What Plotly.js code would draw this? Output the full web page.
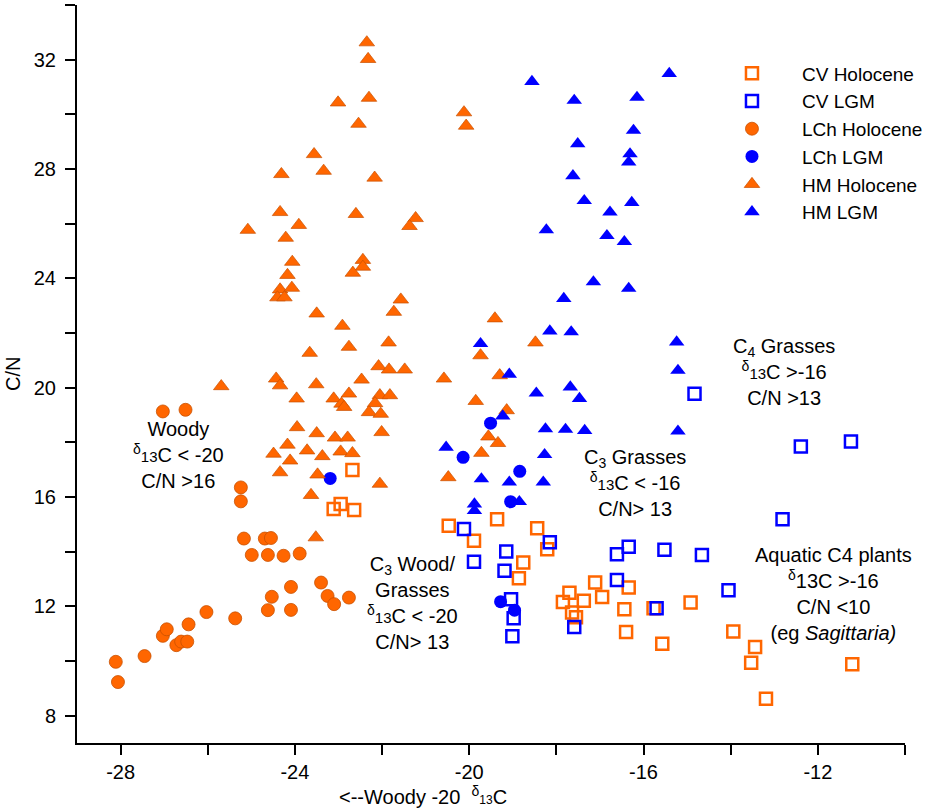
<!DOCTYPE html>
<html>
<head>
<meta charset="utf-8">
<script src="https://cdn.plot.ly/plotly-3.0.1.min.js"></script>
<style>html,body{margin:0;padding:0;background:#fff;}#chart{width:935px;height:810px;}</style>
</head>
<body>
<div id="chart"></div>
<script>
// ---- data (delta13C, C/N) ----
const cvHoloX = [-22.68,-23.11,-22.95,-22.64,-20.47,-19.89,-19.36,-18.44,-18.21,-18.76,-18.86,-16.34,-17.11,-16.95,-17.70,-17.37,-17.85,-17.64,-17.55,-16.44,-16.40,-15.77,-15.57,-14.92,-13.94,-13.44,-13.53,-13.19,-11.21];
const cvHoloY = [16.99,15.56,15.74,15.52,14.95,14.40,15.19,14.86,14.09,13.60,13.03,12.69,12.87,12.34,12.50,12.20,12.16,11.77,11.60,11.89,11.06,11.93,10.63,12.14,11.08,10.51,9.94,8.62,9.88];

const cvLgmX = [-20.12,-19.89,-19.15,-19.19,-19.04,-18.98,-19.01,-18.15,-17.59,-16.61,-16.34,-16.61,-15.52,-14.66,-15.70,-14.05,-12.81,-14.83,-12.39,-11.24];
const cvLgmY = [14.83,13.63,14.01,13.30,12.26,11.56,10.91,14.34,11.24,13.91,14.18,12.96,14.07,13.88,11.93,12.59,15.19,19.78,17.85,18.03];

const lchHoloX = [-28.11,-28.06,-27.45,-27.03,-26.94,-26.72,-26.61,-26.47,-26.44,-26.03,-25.37,-24.62,-24.53,-24.09,-24.09,-23.40,-23.25,-23.10,-22.76,-25.24,-25.24,-25.17,-24.69,-24.55,-24.99,-24.62,-24.26,-23.89,-27.03,-26.51];
const lchHoloY = [9.97,9.23,10.18,10.92,11.16,10.58,10.71,10.71,11.34,11.79,11.56,11.86,12.35,11.87,12.71,12.87,12.38,12.08,12.32,16.35,15.84,14.48,14.48,14.50,13.88,13.88,13.85,13.93,19.13,19.19];

const lchLgmX = [-23.19,-19.51,-20.14,-18.84,-19.05,-19.28,-18.96];
const lchLgmY = [16.68,18.70,17.45,16.94,15.83,12.17,11.86];

const hmHoloX = [-22.35,-22.32,-23.01,-22.30,-22.54,-23.56,-23.34,-22.17,-24.31,-24.34,-22.60,-21.23,-21.37,-25.08,-23.91,-24.21,-24.06,-24.17,-22.44,-22.44,-22.67,-20.12,-20.07,
  -24.34,-24.07,-24.40,-24.24,-23.50,-22.91,-21.57,-21.73,-22.76,-21.85,-23.66,-22.08,-21.84,-21.48,-22.47,-24.43,-24.34,-23.51,-25.69,-22.76,-23.11,-22.93,-22.87,-22.05,-21.82,-22.16,-22.30,-22.03,
  -23.96,-23.95,-23.50,-23.08,-22.79,-22.01,-24.17,-24.49,-23.72,-23.37,-22.95,-22.68,-24.11,-24.34,-23.48,-23.63,-22.05,-20.58,-20.48,-23.52,
  -19.41,-18.48,-19.74,-19.30,-19.85,-19.14,-19.56,-19.34,-19.72];
const hmHoloY = [32.63,32.02,30.43,30.60,29.65,28.54,27.93,27.68,27.81,26.42,26.35,26.20,25.91,25.77,25.95,25.48,24.60,24.12,24.67,24.42,24.20,30.07,29.58,
  23.59,23.65,23.30,23.30,22.71,22.26,23.22,22.77,21.49,21.65,21.27,20.78,20.66,20.66,20.29,20.33,20.08,20.12,20.05,19.78,19.60,19.41,19.29,19.72,19.72,19.43,19.10,19.04,
  19.60,18.55,18.33,18.17,18.17,18.37,17.91,17.58,17.70,17.49,17.66,17.60,17.33,16.90,16.82,16.07,16.48,20.33,16.72,14.52,
  22.53,21.65,21.18,20.45,19.51,19.17,18.21,17.97,17.61];

const hmLgmX = [-18.56,-17.59,-16.15,-15.41,-16.23,-17.51,-16.31,-16.34,-17.62,-17.36,-16.27,-16.77,-18.23,-16.84,-16.44,-17.15,-16.34,-17.83,-18.15,-17.66,-15.24,-19.74,-15.21,-19.08,-18.46,-17.68,-17.47,-19.23,-18.25,-17.79,-17.35,-15.21,-20.53,-18.27,-19.72,-19.08,-18.30,-19.88,-18.85,-19.88];
const hmLgmY = [31.20,30.51,30.62,31.49,29.41,28.92,28.55,28.25,27.75,26.84,26.77,26.42,25.77,25.56,25.34,23.87,23.63,23.26,22.07,22.04,21.67,21.61,20.63,20.49,19.80,20.02,19.60,18.96,18.49,18.47,18.43,18.41,17.82,17.55,16.66,16.54,16.54,15.74,15.83,15.50];

const seriesNames = ['CV Holocene','CV LGM','LCh Holocene','LCh LGM','HM Holocene','HM LGM'];
const xTickVals = [-28,-24,-20,-16,-12];
const xTickText = ['-28','-24','-20','-16','-12'];
const yTickVals = [8,12,16,20,24,28,32];
const yTickText = ['8','12','16','20','24','28','32'];

const ORANGE = '#FF6600', BLUE = '#0000FF';
const FONT = 'Arial, "Liberation Sans", sans-serif';

const traces = [
  {x: cvHoloX, y: cvHoloY, name: seriesNames[0], type:'scatter', mode:'markers',
   marker:{symbol:'square-open', size:12, color:ORANGE, line:{width:2.5, color:ORANGE}}},
  {x: cvLgmX, y: cvLgmY, name: seriesNames[1], type:'scatter', mode:'markers',
   marker:{symbol:'square-open', size:12, color:BLUE, line:{width:2.5, color:BLUE}}},
  {x: lchHoloX, y: lchHoloY, name: seriesNames[2], type:'scatter', mode:'markers',
   marker:{symbol:'circle', size:13, color:ORANGE, line:{width:0.8, color:'#C85000'}}},
  {x: lchLgmX, y: lchLgmY, name: seriesNames[3], type:'scatter', mode:'markers',
   marker:{symbol:'circle', size:13, color:BLUE, line:{width:0}}},
  {x: hmHoloX, y: hmHoloY, name: seriesNames[4], type:'scatter', mode:'markers',
   marker:{symbol:'triangle-up', size:13.5, color:ORANGE, line:{width:0.7, color:'#C85000'}}},
  {x: hmLgmX, y: hmLgmY, name: seriesNames[5], type:'scatter', mode:'markers',
   marker:{symbol:'triangle-up', size:13.5, color:BLUE, line:{width:0}}}
];

const d13 = "<sup>δ</sup><span style='font-size:15px'>13</span>C";
const annFont = {family: FONT, size: 20, color: '#000'};

const layout = {
  width: 935, height: 810,
  margin: {l: 77, r: 30, t: 5, b: 67},
  paper_bgcolor: '#fff', plot_bgcolor: '#fff',
  font: {family: FONT, size: 20, color: '#000'},
  showlegend: true,
  legend: {x: 0.7548, y: 0.933, xanchor: 'left', yanchor: 'top', itemwidth: 90,
           font: {family: FONT, size: 19, color: '#000'}, bgcolor: 'rgba(0,0,0,0)', borderwidth: 0},
  xaxis: {range: [-29, -10], tickmode: 'array', tickvals: xTickVals, ticktext: xTickText,
          ticks: 'outside', ticklen: 10, tickwidth: 2, tickcolor: '#000',
          minor: {tickmode: 'linear', tick0: -28, dtick: 2, ticks: 'outside', ticklen: 10, tickwidth: 2, tickcolor: '#000', showgrid: false},
          showline: true, linewidth: 2, linecolor: '#000', showgrid: false, zeroline: false,
          tickfont: {family: FONT, size: 20, color: '#000'}, ticklabelstandoff: 0},
  yaxis: {range: [7, 34], tickmode: 'array', tickvals: yTickVals, ticktext: yTickText,
          ticks: 'outside', ticklen: 10, tickwidth: 2, tickcolor: '#000',
          minor: {tickmode: 'linear', tick0: 8, dtick: 2, ticks: 'outside', ticklen: 10, tickwidth: 2, tickcolor: '#000', showgrid: false},
          showline: true, linewidth: 2, linecolor: '#000', showgrid: false, zeroline: false,
          tickfont: {family: FONT, size: 20, color: '#000'}, ticklabelstandoff: 5},
  annotations: [
    {xref:'paper', yref:'paper', x: 0.314, y: -0.0705, xanchor:'left', yanchor:'middle', showarrow:false,
     text: "<--Woody -20  <sup>δ</sup><span style='font-size:12px'>13</span>C", font: annFont},
    {xref:'paper', yref:'paper', x: -0.0773, y: 0.5, xanchor:'center', yanchor:'middle', showarrow:false,
     textangle: -90, text: 'C/N', font: annFont},
    {xref:'x', yref:'y', x: -26.68, y: 17.55, showarrow:false, align:'center',
     text: 'Woody<br>' + d13 + ' < -20<br>C/N >16', font: annFont},
    {xref:'x', yref:'y', x: -21.29, y: 12.11, showarrow:false, align:'center',
     text: 'C<sub>3</sub> Wood/<br>Grasses<br>' + d13 + ' < -20<br>C/N> 13', font: annFont},
    {xref:'x', yref:'y', x: -16.19, y: 16.52, showarrow:false, align:'center',
     text: 'C<sub>3</sub> Grasses<br>' + d13 + ' < -16<br>C/N> 13', font: annFont},
    {xref:'x', yref:'y', x: -12.78, y: 20.56, showarrow:false, align:'center',
     text: 'C<sub>4</sub> Grasses<br>' + d13 + ' >-16<br>C/N >13', font: annFont},
    {xref:'x', yref:'y', x: -11.64, y: 12.45, showarrow:false, align:'center',
     text: 'Aquatic C4 plants<br><sup>δ</sup>13C >-16<br>C/N <10<br>(eg <i>Sagittaria)</i>', font: annFont}
  ]
};

Plotly.newPlot('chart', traces, layout, {staticPlot: true, displayModeBar: false});
</script>
</body>
</html>
